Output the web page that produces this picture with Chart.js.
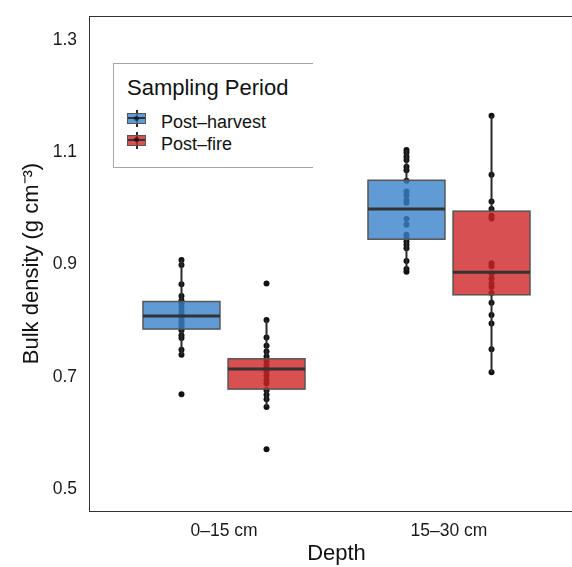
<!DOCTYPE html>
<html>
<head>
<meta charset="utf-8">
<script src="https://cdn.jsdelivr.net/npm/chart.js@4.4.1/dist/chart.umd.min.js"></script>
<style>
  html, body { margin: 0; padding: 0; background: #fff; overflow: hidden; }
  #wrap { position: relative; width: 600px; height: 567px; }
  #legend {
    position: absolute; left: 113px; top: 63px; width: 199px; height: 103px;
    border: 1px solid #a6a6a6; border-right: none; background: #fff;
    font-family: "Liberation Sans", Arial, sans-serif; color: #111;
  }
  #legend .title { position: absolute; left: 13px; top: 13px; font-size: 22px; line-height: 22px; white-space: nowrap; }
  #legend .item { position: absolute; left: 47px; font-size: 18px; line-height: 18px; white-space: nowrap; }
  #legend .key { position: absolute; left: 13px; width: 19px; height: 17px; }
  #legend .key .wh { position: absolute; left: 8.5px; top: 0; width: 2px; height: 17px; background: #2b2b2b; }
  #legend .key .bx { position: absolute; left: 0; top: 3px; width: 17px; height: 9px; border: 1px solid #555; }
  #legend .key .md { position: absolute; left: 1px; top: 7px; width: 17px; height: 2px; background: #333; }
  #legend .key .dt { position: absolute; left: 7px; top: 5.5px; width: 5px; height: 5px; border-radius: 50%; }
</style>
</head>
<body>
<div id="wrap">
  <canvas id="chart" width="600" height="567"></canvas>
  <div id="legend"></div>
</div>
<script>
const depths = ["0–15 cm", "15–30 cm"];
const periods = ["Post–harvest", "Post–fire"];
const yTicks = [0.5, 0.7, 0.9, 1.1, 1.3];

// single samples
const harvestShallow = [0.908, 0.899, 0.865, 0.844, 0.836, 0.831, 0.824, 0.817, 0.812, 0.805,
  0.800, 0.796, 0.792, 0.789, 0.783, 0.774, 0.769, 0.748, 0.739, 0.669];
const harvestDeep = [1.104, 1.099, 1.092, 1.086, 1.074, 1.068, 1.049, 1.030, 1.024, 1.015,
  1.010, 0.981, 0.971, 0.953, 0.947, 0.941, 0.935, 0.929, 0.906, 0.892, 0.887];
const fireShallow = [0.866, 0.801, 0.770, 0.755, 0.745, 0.736, 0.728, 0.721, 0.715, 0.709,
  0.702, 0.694, 0.688, 0.676, 0.668, 0.660, 0.646, 0.571];
const fireDeep = [1.165, 1.060, 1.012, 0.999, 0.987, 0.982, 0.902, 0.897, 0.884, 0.875,
  0.866, 0.860, 0.849, 0.832, 0.810, 0.795, 0.749, 0.708];

// box stats per depth: lower whisker, Q1, median, Q3, upper whisker
const harvestBoxes = [[0.739, 0.785, 0.808, 0.834, 0.908], [0.890, 0.945, 0.999, 1.050, 1.104]];
const fireBoxes = [[0.646, 0.678, 0.714, 0.732, 0.801], [0.708, 0.846, 0.886, 0.995, 1.165]];

const fills = ["rgba(57,130,203,0.8)", "rgba(208,36,36,0.8)"];
const dodge = [-0.189, 0.189];
const halfWidth = 0.171;

const samples = [[harvestShallow, harvestDeep], [fireShallow, fireDeep]];
const boxes = [harvestBoxes, fireBoxes];

const datasets = samples.map((byDepth, p) => ({
  label: periods[p],
  data: byDepth.flatMap((vals, i) => vals.map(v => ({ x: i + 1 + dodge[p], y: v }))),
  pointRadius: 3,
  pointBackgroundColor: "#111",
  pointBorderWidth: 0,
  showLine: false
}));

const boxPlugin = {
  id: "boxes",
  afterDatasetsDraw(chart) {
    const { ctx, scales: { x, y } } = chart;
    boxes.forEach((list, p) => {
      list.forEach((s, i) => {
        const c = i + 1 + dodge[p];
        const xc = x.getPixelForValue(c);
        const x0 = x.getPixelForValue(c - halfWidth);
        const x1 = x.getPixelForValue(c + halfWidth);
        const [lo, q1, med, q3, hi] = s.map(v => y.getPixelForValue(v));
        ctx.save();
        ctx.strokeStyle = "#2b2b2b";
        ctx.lineWidth = 2;
        ctx.beginPath();
        ctx.moveTo(xc, hi); ctx.lineTo(xc, q3);
        ctx.moveTo(xc, q1); ctx.lineTo(xc, lo);
        ctx.stroke();
        ctx.fillStyle = fills[p];
        ctx.fillRect(x0, q3, x1 - x0, q1 - q3);
        ctx.strokeStyle = "#555";
        ctx.lineWidth = 1.5;
        ctx.strokeRect(x0, q3, x1 - x0, q1 - q3);
        ctx.strokeStyle = "#333";
        ctx.lineWidth = 3;
        ctx.beginPath();
        ctx.moveTo(x0, med); ctx.lineTo(x1, med);
        ctx.stroke();
        ctx.restore();
      });
    });
  },
  afterDraw(chart) {
    const { ctx, chartArea: a } = chart;
    ctx.save();
    ctx.strokeStyle = "#333";
    ctx.lineWidth = 1;
    ctx.strokeRect(Math.round(a.left) + 0.5, Math.round(a.top) + 0.5, a.right - a.left, a.bottom - a.top);
    ctx.restore();
  }
};

Chart.defaults.font.family = '"Liberation Sans", Arial, sans-serif';
Chart.defaults.color = "#1a1a1a";

new Chart(document.getElementById("chart"), {
  type: "scatter",
  data: { datasets },
  plugins: [boxPlugin],
  options: {
    responsive: false,
    animation: false,
    devicePixelRatio: 1,
    layout: { padding: { top: 16, right: 16, left: 0, bottom: 0 } },
    plugins: { legend: { display: false }, tooltip: { enabled: false } },
    scales: {
      x: {
        type: "linear",
        min: 0.4,
        max: 2.6,
        afterBuildTicks: s => { s.ticks = depths.map((d, i) => ({ value: i + 1 })); },
        afterFit: s => { s.height = 56; s.paddingLeft = 0; s.paddingRight = 0; },
        ticks: { callback: v => depths[v - 1], font: { size: 17.5 }, padding: 10, maxRotation: 0 },
        grid: { display: false, drawTicks: false },
        border: { display: false },
        title: { display: true, text: "Depth", font: { size: 22 }, color: "#111", padding: { top: 0, bottom: 0 } }
      },
      y: {
        min: 0.4608,
        max: 1.3427,
        afterBuildTicks: s => { s.ticks = yTicks.map(v => ({ value: v })); },
        afterFit: s => { s.width = 89; s.paddingTop = 0; s.paddingBottom = 0; },
        ticks: { callback: v => v.toFixed(1), font: { size: 17.5 }, padding: 12 },
        grid: { display: false, drawTicks: false },
        border: { display: false },
        title: { display: true, text: "Bulk density (g cm⁻³)", font: { size: 22 }, color: "#111", padding: { top: 19, bottom: 0 } }
      }
    }
  }
});

// legend
const legend = document.getElementById("legend");
legend.innerHTML = '<div class="title">Sampling Period</div>' + periods.map((name, p) => {
  const top = 46 + p * 21.5;
  return `<div class="key" style="top:${top}px"><div class="wh"></div><div class="bx" style="background:${fills[p]}"></div>` +
    `<div class="md"></div><div class="dt" style="background:rgba(0,0,0,0.55)"></div></div>` +
    `<div class="item" style="top:${top + 3}px">${name}</div>`;
}).join("");
</script>
</body>
</html>
